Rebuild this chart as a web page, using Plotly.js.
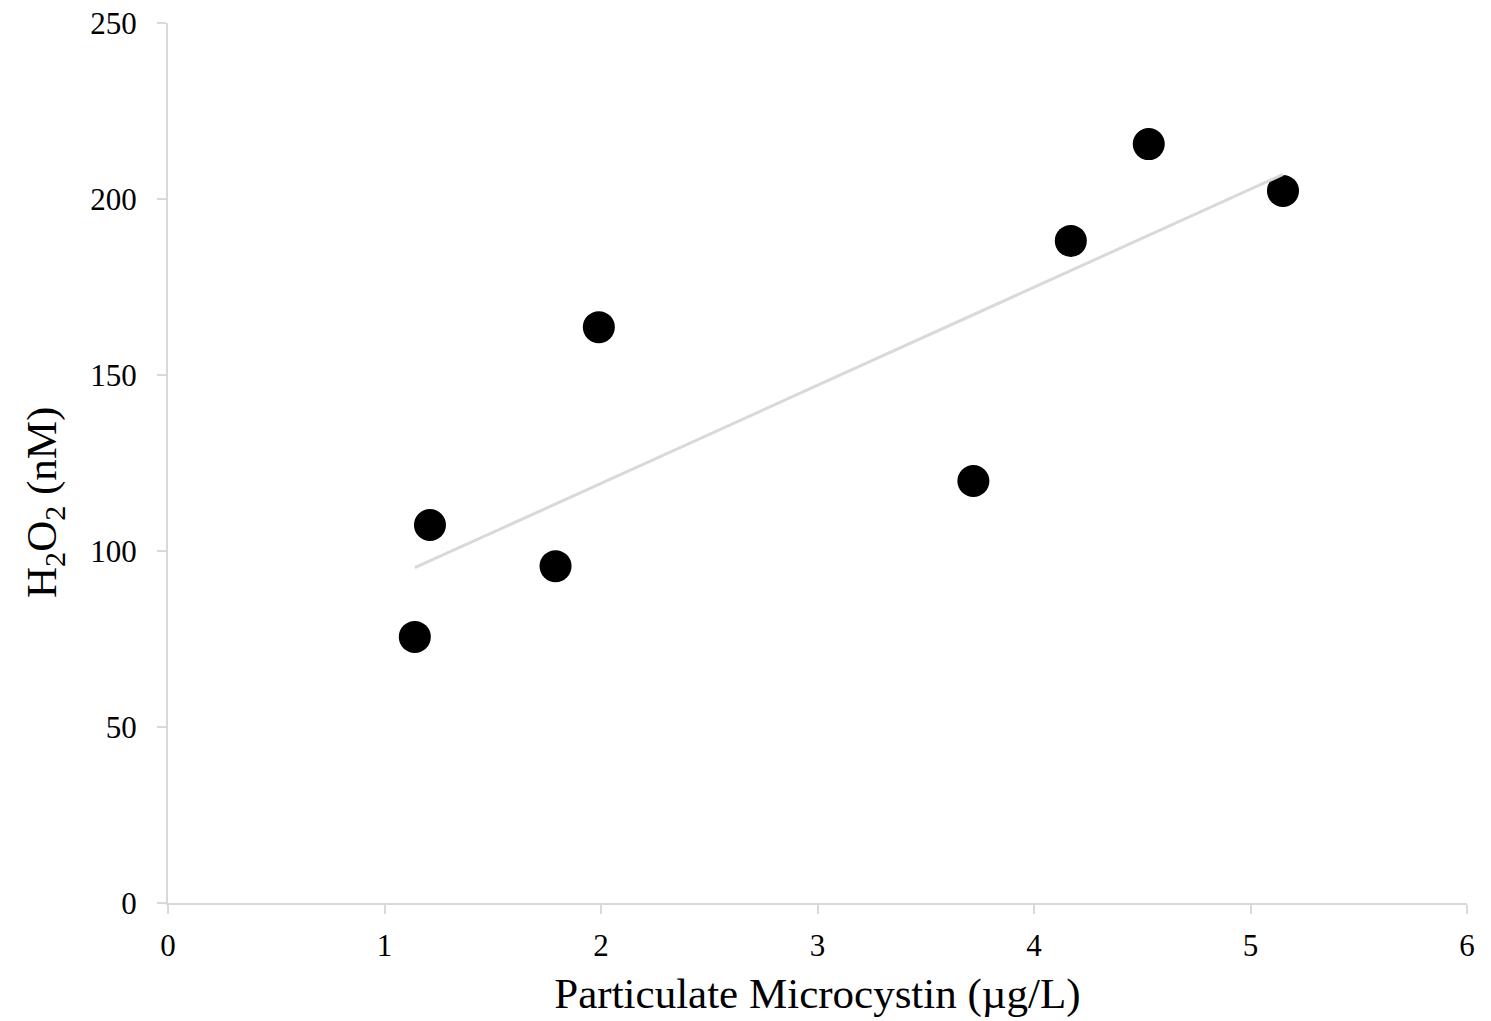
<!DOCTYPE html>
<html>
<head>
<meta charset="utf-8">
<script src="https://cdn.plot.ly/plotly-3.0.1.min.js"></script>
<style>html,body{margin:0;padding:0;background:#fff;}#chart{width:1491px;height:1021px;}</style>
</head>
<body>
<div id="chart"></div>
<script>
const microcystin = [1.14, 1.21, 1.79, 1.99, 3.72, 4.17, 4.53, 5.15];
const h2o2 = [75.6, 107.4, 95.7, 163.6, 119.9, 188.1, 215.6, 202.3];
const xTicks = [0, 1, 2, 3, 4, 5, 6];
const yTicks = [0, 50, 100, 150, 200, 250];

// linear least-squares trendline from the data
const n = microcystin.length;
const mx = microcystin.reduce((a, b) => a + b, 0) / n;
const my = h2o2.reduce((a, b) => a + b, 0) / n;
let sxy = 0, sxx = 0;
for (let i = 0; i < n; i++) { sxy += (microcystin[i] - mx) * (h2o2[i] - my); sxx += (microcystin[i] - mx) ** 2; }
const slope = sxy / sxx, intercept = my - slope * mx;
const xMin = Math.min(...microcystin), xMax = Math.max(...microcystin);
const trendX = [xMin, xMax];
const trendY = trendX.map(x => intercept + slope * x);

const data = [
  {x: microcystin, y: h2o2, mode: 'markers', type: 'scatter',
   marker: {color: '#000', size: 32}, hoverinfo: 'x+y'},
  {x: trendX, y: trendY, mode: 'lines', type: 'scatter',
   line: {color: '#d9d9d9', width: 3}, hoverinfo: 'skip'}
];

const fontFam = '"Liberation Serif", "Times New Roman", serif';
const layout = {
  width: 1491, height: 1021,
  margin: {l: 168, r: 24, t: 23, b: 118},
  paper_bgcolor: '#fff', plot_bgcolor: '#fff',
  showlegend: false,
  font: {family: fontFam, color: '#000', size: 31},
  xaxis: {
    range: [0, 6], tickvals: xTicks, ticktext: xTicks.map(String),
    showgrid: false, zeroline: false, showline: true, linecolor: '#d9d9d9', linewidth: 2,
    ticks: 'outside', ticklen: 9, tickcolor: '#d9d9d9', tickwidth: 2,
    ticklabelstandoff: 5,
    tickfont: {family: fontFam, size: 31, color: '#000'},
    title: {text: 'Particulate Microcystin (µg/L)', font: {family: fontFam, size: 43, color: '#000'}, standoff: 16}
  },
  yaxis: {
    range: [0, 250], tickvals: yTicks, ticktext: yTicks.map(String),
    showgrid: false, zeroline: false, showline: true, linecolor: '#d9d9d9', linewidth: 2,
    ticks: 'outside', ticklen: 9, tickcolor: '#d9d9d9', tickwidth: 2,
    ticklabelstandoff: 14,
    tickfont: {family: fontFam, size: 31, color: '#000'}
  },
  annotations: [{
    text: 'H<sub>2</sub>O<sub>2</sub> (nM)', textangle: -90,
    xref: 'paper', yref: 'paper', x: -0.0947, y: 0.4557,
    xanchor: 'center', yanchor: 'middle', showarrow: false,
    font: {family: fontFam, size: 43, color: '#000'}
  }]
};

Plotly.newPlot('chart', data, layout, {displayModeBar: false, staticPlot: true});
</script>
</body>
</html>
